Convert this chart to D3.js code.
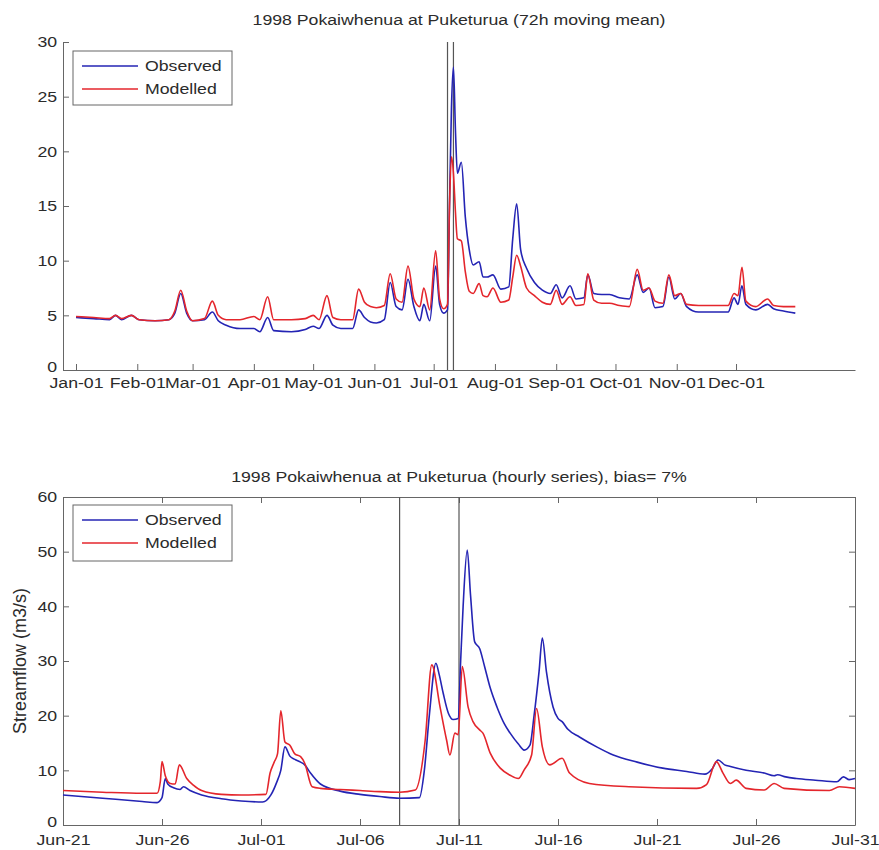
<!DOCTYPE html>
<html>
<head>
<meta charset="utf-8">
<script src="https://cdn.jsdelivr.net/npm/d3@7"></script>
<style>
body { margin: 0; background: #fff; }
svg { font-family: "Liberation Sans", Arial, sans-serif; }
</style>
</head>
<body>
<div id="chart"></div>
<script>
// 72h moving mean, whole of 1998
const dailyDates = [
  '01-01','01-10','01-18','01-21','01-24','01-29','02-02','02-10','02-17','02-20',
  '02-23','02-26','03-01','03-07','03-11','03-14','03-18','03-25','04-01','04-04',
  '04-08','04-11','04-20','04-27','05-01','05-04','05-08','05-11','05-15','05-21',
  '05-24','05-27','05-30','06-02','06-06','06-09','06-12','06-15','06-18','06-21',
  '06-24','06-26','06-29','07-02','07-04','07-06','07-08','07-09','07-10','07-11',
  '07-12','07-13','07-15','07-17','07-19','07-21','07-24','07-26','07-28','07-31',
  '08-04','08-08','08-10','08-12','08-14','08-17','08-21','08-25','08-29','09-01',
  '09-04','09-08','09-11','09-15','09-17','09-20','09-24','09-28','10-03','10-08',
  '10-12','10-15','10-18','10-21','10-25','10-28','10-31','11-03','11-06','11-12',
  '11-20','11-27','11-30','12-02','12-04','12-06','12-11','12-17','12-20','12-25',
  '12-31'
];
const dailyObserved = [
  4.8, 4.7, 4.6, 5.0, 4.6, 5.0, 4.6, 4.5, 4.6, 5.2,
  7.0, 5.2, 4.5, 4.6, 5.3, 4.5, 4.1, 3.8, 3.8, 3.5,
  4.8, 3.6, 3.5, 3.7, 4.0, 3.8, 5.0, 4.1, 3.8, 3.8,
  5.5, 4.8, 4.4, 4.3, 4.6, 8.0, 5.8, 5.5, 8.3, 5.8,
  4.5, 6.0, 4.5, 9.5, 6.0, 5.2, 5.5, 15.0, 24.0, 27.7,
  22.0, 18.0, 19.0, 14.0, 11.0, 9.6, 9.9, 8.5, 8.5, 8.7,
  7.4, 7.6, 12.0, 15.2, 11.0, 9.3, 8.0, 7.3, 7.0, 7.8,
  6.6, 7.7, 6.5, 6.6, 8.7, 7.0, 6.9, 6.9, 6.6, 6.5,
  8.7, 7.1, 7.5, 5.7, 5.8, 8.5, 6.5, 7.0, 5.8, 5.3,
  5.3, 5.3, 6.6, 6.0, 7.7, 6.0, 5.5, 6.0, 5.6, 5.4,
  5.2
];
const dailyModelled = [
  4.9, 4.8, 4.7, 5.0, 4.7, 5.0, 4.6, 4.5, 4.6, 5.4,
  7.3, 5.4, 4.5, 4.7, 6.3, 5.0, 4.6, 4.6, 4.9, 4.6,
  6.7, 4.6, 4.6, 4.7, 5.0, 4.6, 6.8, 4.8, 4.6, 4.6,
  7.4, 6.2, 5.8, 5.7, 5.9, 8.8, 6.5, 6.2, 9.5, 6.5,
  5.8, 7.5, 5.5, 10.9, 6.5, 5.6, 6.0, 15.0, 19.5, 18.0,
  14.5, 12.0, 11.8, 9.0, 7.2, 7.0, 7.9, 6.8, 6.7, 7.5,
  6.2, 6.4, 8.5, 10.5, 9.5, 7.5, 6.8, 6.2, 6.0, 7.3,
  6.0, 6.7, 5.9, 6.0, 8.8, 6.4, 6.1, 6.1, 5.9, 5.8,
  9.2, 7.3, 7.5, 6.3, 6.1, 8.7, 6.8, 7.0, 6.0, 5.9,
  5.9, 5.9, 7.0, 6.8, 9.4, 6.3, 5.8, 6.5, 5.9, 5.8,
  5.8
];

// hourly series, Jun 21 - Jul 31
const hourlyObsTimes = [
  '06-21 00','06-23 00','06-25 00','06-25 18','06-26 00','06-26 04','06-26 07','06-26 14',
  '06-26 22','06-27 02','06-27 10','06-28 00','06-29 00','06-30 00','07-01 02','07-01 12',
  '07-01 19','07-02 00','07-02 05','07-02 11','07-02 17','07-03 00','07-03 05','07-03 12',
  '07-04 00','07-05 00','07-06 00','07-07 00','07-08 00','07-09 00','07-09 06','07-09 12',
  '07-09 20','07-10 00','07-10 05','07-10 11','07-10 17','07-10 23','07-11 02','07-11 05',
  '07-11 10','07-11 14','07-11 19','07-12 01','07-12 07','07-12 14','07-12 22','07-13 07',
  '07-13 14','07-14 00','07-14 07','07-14 14','07-14 19','07-15 01','07-15 05','07-15 10',
  '07-15 18','07-16 00','07-16 05','07-16 12','07-17 02','07-18 00','07-18 19','07-20 00',
  '07-21 07','07-22 12','07-23 10','07-23 19','07-24 02','07-24 10','07-24 17','07-25 12',
  '07-26 10','07-26 22','07-27 02','07-27 12','07-28 01','07-29 00','07-30 02','07-30 10',
  '07-30 17','07-31 00'
];
const hourlyObserved = [
  5.5, 4.9, 4.3, 4.1, 5.0, 8.5, 7.5, 6.8,
  6.5, 7.0, 6.3, 5.5, 4.8, 4.4, 4.2, 5.5,
  7.8, 10.0, 14.3, 12.6, 12.0, 11.5, 11.0, 9.5,
  7.5, 6.2, 5.6, 5.2, 4.9, 5.0, 10.0, 20.0,
  29.6, 27.5, 24.0, 20.5, 19.3, 19.5, 30.0, 40.0,
  50.3, 42.0, 33.5, 32.3, 29.0, 25.0, 21.6, 18.5,
  16.8, 14.8, 13.7, 14.6, 20.0, 28.0, 34.2, 28.0,
  21.6, 19.5, 18.9, 17.5, 16.1, 14.2, 12.8, 11.5,
  10.4, 9.8, 9.3, 10.3, 11.9, 11.0, 10.7, 10.0,
  9.5, 9.0, 9.2, 8.8, 8.5, 8.2, 7.9, 8.8,
  8.3, 8.5
];
const hourlyModTimes = [
  '06-21 00','06-23 00','06-25 00','06-25 18','06-25 22','06-26 00','06-26 04','06-26 10',
  '06-26 16','06-26 21','06-27 06','06-27 14','06-28 00','06-29 00','06-30 00','07-01 06',
  '07-01 11','07-01 16','07-01 20','07-02 00','07-02 05','07-02 11','07-02 17','07-03 00',
  '07-03 05','07-03 14','07-04 00','07-05 00','07-06 00','07-07 00','07-08 00','07-08 19',
  '07-09 07','07-09 15','07-10 01','07-10 09','07-10 13','07-10 19','07-10 23','07-11 04',
  '07-11 11','07-11 17','07-12 01','07-12 05','07-12 14','07-13 02','07-13 14','07-14 00',
  '07-14 07','07-14 16','07-14 22','07-15 05','07-15 14','07-16 05','07-16 14','07-17 14',
  '07-19 14','07-23 00','07-23 12','07-24 00','07-24 08','07-24 17','07-25 00','07-25 12',
  '07-26 10','07-26 22','07-27 10','07-29 17','07-30 05','07-31 00'
];
const hourlyModelled = [
  6.3, 6.0, 5.8, 5.8, 8.0, 11.6, 9.0, 7.6,
  7.5, 11.0, 8.5, 7.3, 6.3, 5.6, 5.5, 5.6,
  9.5, 11.5, 13.0, 20.9, 15.2, 14.6, 13.0, 12.5,
  11.3, 7.0, 6.7, 6.5, 6.3, 6.1, 6.0, 6.4,
  15.5, 29.3, 21.6, 15.5, 12.8, 16.8, 16.5, 29.0,
  21.6, 18.9, 17.4, 16.8, 13.1, 10.4, 9.1, 8.5,
  10.1, 12.8, 21.3, 14.3, 11.0, 12.2, 9.5, 7.6,
  7.0, 6.7, 7.4, 11.6, 9.5, 7.6, 8.2, 6.7,
  6.4, 7.6, 6.7, 6.3, 7.0, 6.7
];

// axis ticks and markers
const monthTicks = ['01-01','02-01','03-01','04-01','05-01','06-01','07-01','08-01','09-01','10-01','11-01','12-01'];
const dayTicks = ['06-21','06-26','07-01','07-06','07-11','07-16','07-21','07-26','07-31'];
const markerDates = ['07-08','07-11'];
const topTitle = '1998 Pokaiwhenua at Puketurua (72h moving mean)';
const bottomTitle = '1998 Pokaiwhenua at Puketurua (hourly series), bias= 7%';

const parseDay = d3.timeParse('%Y-%m-%d');
const parseHour = d3.timeParse('%Y-%m-%d %H');
const day = s => parseDay('1998-' + s);
const hour = s => parseHour('1998-' + s);

const W = 879, H = 850;
const SX = 1.18;   // the source image is stretched sideways
const AXIS = '#666', INK = '#2b2b2b';
const BLUE = '#2424b4', RED = '#e4262c';
const left = 63, right = 855;

const svg = d3.select('#chart').append('svg')
    .attr('width', W)
    .attr('height', H);

function stretched(sel) {
  sel.attr('transform', function() {
    const old = d3.select(this).attr('transform');
    return (old ? old + ' ' : '') + `scale(${SX},1)`;
  });
}

function styleAxis(g) {
  g.select('.domain').attr('stroke', AXIS);
  g.selectAll('.tick line').attr('stroke', AXIS);
  g.selectAll('.tick text')
      .attr('fill', INK)
      .style('font-size', '15px')
      .call(stretched);
}

function panel(p) {
  const x = d3.scaleTime().domain(p.xDomain).range([left, right]);
  const y = d3.scaleLinear().domain(p.yDomain).range([p.bottom, p.top]);
  const g = svg.append('g');

  g.append('g')
      .attr('transform', `translate(0,${p.bottom})`)
      .call(d3.axisBottom(x).tickValues(p.xTicks).tickFormat(d3.timeFormat('%b-%d'))
        .tickSizeInner(-6).tickSizeOuter(0).tickPadding(p.xPad))
      .call(styleAxis);

  const yAxis = g.append('g')
      .attr('transform', `translate(${left},0)`)
      .call(d3.axisLeft(y).tickValues(p.yTicks).tickSizeInner(-6).tickSizeOuter(0).tickPadding(5))
      .call(styleAxis);
  // bottom label sits a touch higher, as in the source
  yAxis.selectAll('.tick text').filter(d => d === 0).attr('dy', '0.1em');

  if (p.box) {
    g.append('g')
        .attr('transform', `translate(0,${p.top})`)
        .call(d3.axisTop(x).tickValues(p.xTicks).tickFormat('').tickSizeInner(-6).tickSizeOuter(0))
        .call(styleAxis);
    g.append('g')
        .attr('transform', `translate(${right},0)`)
        .call(d3.axisRight(y).tickValues(p.yTicks).tickFormat('').tickSizeInner(-6).tickSizeOuter(0))
        .call(styleAxis);
  }

  // event markers
  g.selectAll('line.marker')
    .data(markerDates.map(day))
    .join('line')
      .attr('class', 'marker')
      .attr('x1', d => x(d)).attr('x2', d => x(d))
      .attr('y1', y(p.yDomain[1])).attr('y2', y(p.yDomain[0]))
      .attr('stroke', '#555')
      .attr('stroke-width', 1.2);

  const line = d3.line()
      .curve(d3.curveMonotoneX)
      .x(d => x(d[0]))
      .y(d => y(d[1]));
  p.series.forEach(s => {
    g.append('path')
        .datum(s.times.map((t, i) => [t, s.values[i]]))
        .attr('d', line)
        .attr('fill', 'none')
        .attr('stroke', s.color)
        .attr('stroke-width', 1.6)
        .attr('stroke-linejoin', 'round');
  });

  g.append('text')
      .attr('text-anchor', 'middle')
      .attr('fill', INK)
      .style('font-size', '15px')
      .attr('transform', `translate(${(left + right) / 2},${p.titleY}) scale(${SX},1)`)
      .text(p.title);

  // legend
  const lg = g.append('g').attr('transform', `translate(73,${p.legendY})`);
  lg.append('rect')
      .attr('width', 159).attr('height', p.legendH)
      .attr('fill', '#fff').attr('stroke', AXIS);
  p.series.forEach((s, i) => {
    const ly = 15 + i * 23;
    lg.append('line')
        .attr('x1', 9).attr('x2', 65).attr('y1', ly).attr('y2', ly)
        .attr('stroke', s.color).attr('stroke-width', 1.5);
    lg.append('text')
        .attr('transform', `translate(72,${ly + 5}) scale(${SX},1)`)
        .attr('fill', INK)
        .style('font-size', '15px')
        .text(s.name);
  });

  if (p.ylabel) {
    g.append('text')
        .attr('transform', `translate(21,${(p.top + p.bottom) / 2}) rotate(-90)`)
        .attr('text-anchor', 'middle')
        .attr('dominant-baseline', 'middle')
        .attr('fill', INK)
        .style('font-size', '18px')
        .text(p.ylabel);
  }
}

panel({
  top: 42, bottom: 370,
  xDomain: [new Date(1997, 11, 25, 10), new Date(1999, 0, 30, 5)],
  yDomain: [0, 30],
  xTicks: monthTicks.map(day),
  yTicks: d3.range(0, 31, 5),
  xPad: 7,
  box: false,
  title: topTitle, titleY: 25,
  legendY: 51, legendH: 54,
  series: [
    { name: 'Observed', color: BLUE, times: dailyDates.map(day), values: dailyObserved },
    { name: 'Modelled', color: RED, times: dailyDates.map(day), values: dailyModelled }
  ]
});

panel({
  top: 497, bottom: 825,
  xDomain: [day('06-21'), day('07-31')],
  yDomain: [0, 60],
  xTicks: dayTicks.map(day),
  yTicks: d3.range(0, 61, 10),
  xPad: 9,
  box: true,
  title: bottomTitle, titleY: 482,
  legendY: 505, legendH: 56,
  ylabel: 'Streamflow (m3/s)',
  series: [
    { name: 'Observed', color: BLUE, times: hourlyObsTimes.map(hour), values: hourlyObserved },
    { name: 'Modelled', color: RED, times: hourlyModTimes.map(hour), values: hourlyModelled }
  ]
});
</script>
</body>
</html>
